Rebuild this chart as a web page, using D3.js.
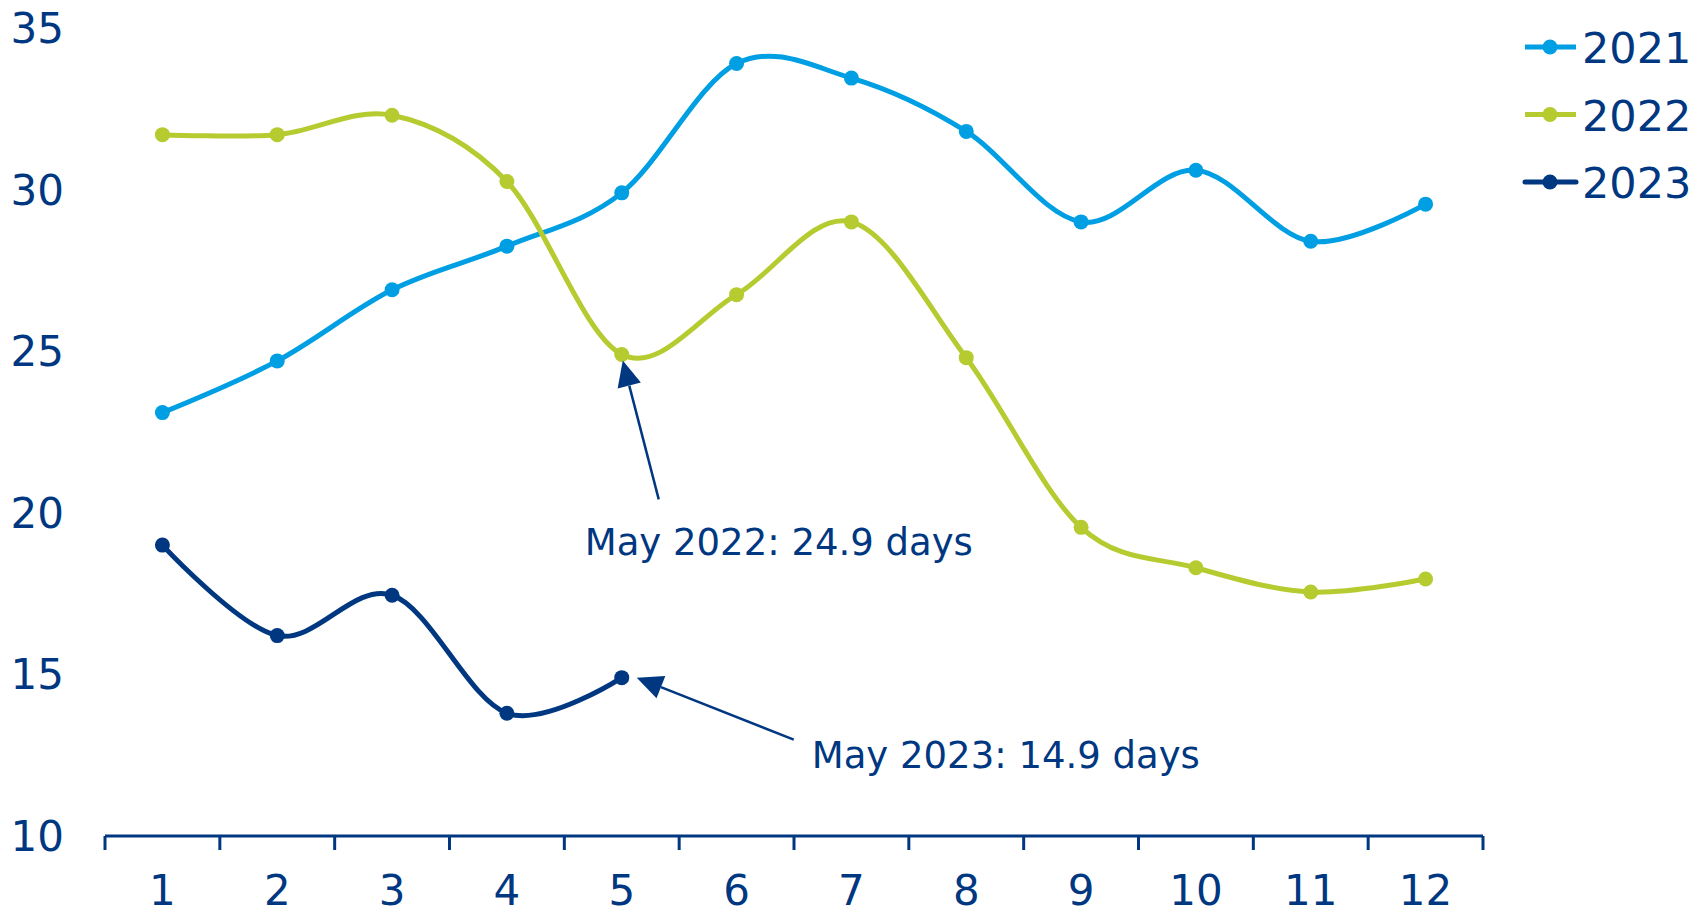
<!DOCTYPE html>
<html>
<head>
<meta charset="utf-8">
<script src="https://cdn.jsdelivr.net/npm/d3@7"></script>
<style>
  html, body { margin: 0; padding: 0; background: #fff; }
  svg text { font-family: "DejaVu Sans", Verdana, sans-serif; fill: #003781; }
</style>
</head>
<body>
<div id="chart"></div>
<script>
// data
const months = [1, 2, 3, 4, 5, 6, 7, 8, 9, 10, 11, 12];
const yTicks = [10, 15, 20, 25, 30, 35];
const values2021 = [23.1, 24.7, 26.9, 28.25, 29.9, 33.9, 33.45, 31.8, 29.0, 30.6, 28.4, 29.55];
const values2022 = [31.7, 31.7, 32.3, 30.25, 24.9, 26.75, 29.0, 24.8, 19.55, 18.3, 17.55, 17.95];
const values2023 = [19.0, 16.2, 17.45, 13.8, 14.9];
const seriesNames = ['2021', '2022', '2023'];
const seriesColors = ['#009fe3', '#b5cb30', '#003781'];
const notes = [
  { label: 'May 2022: 24.9 days', month: 5, value: 24.9 },
  { label: 'May 2023: 14.9 days', month: 5, value: 14.9 }
];

const width = 1707, height = 915;
const margin = [28, 79, 105, 224]; // top, bottom, left, right
const navy = '#003781';

const svg = d3.select('#chart')
    .append('svg')
    .attr('width', width)
    .attr('height', height);

// scales
const scaleX = d3.scaleBand()
    .domain(months)
    .range([margin[2], width - margin[3]])
    .padding(0);
const scaleY = d3.scaleLinear()
    .domain([10, 35])
    .range([height - margin[1], margin[0]]);
const cx = m => scaleX(m) + scaleX.bandwidth() / 2;

// x axis: line along the bottom, ticks at band edges, labels under the middles
const axisY0 = scaleY(10);
svg.append('line')
    .attr('x1', scaleX.range()[0]).attr('x2', scaleX.range()[1])
    .attr('y1', axisY0).attr('y2', axisY0)
    .attr('stroke', navy).attr('stroke-width', 3);
const edges = months.map(m => scaleX(m)).concat([scaleX.range()[1]]);
svg.selectAll('line.xtick')
    .data(edges)
    .join('line')
    .classed('xtick', true)
    .attr('x1', d => d).attr('x2', d => d)
    .attr('y1', axisY0).attr('y2', axisY0 + 14)
    .attr('stroke', navy).attr('stroke-width', 3);
svg.selectAll('text.xlabel')
    .data(months)
    .join('text')
    .classed('xlabel', true)
    .attr('x', d => cx(d))
    .attr('y', 905)
    .attr('text-anchor', 'middle')
    .style('font-size', '42px')
    .text(d => d);

// y labels (no axis line)
svg.selectAll('text.ylabel')
    .data(yTicks)
    .join('text')
    .classed('ylabel', true)
    .attr('x', 64)
    .attr('y', d => scaleY(d) + 15)
    .attr('text-anchor', 'end')
    .style('font-size', '42px')
    .text(d => d);

// lines
const line = d3.line()
    .x((d, i) => cx(months[i]))
    .y(d => scaleY(d))
    .curve(d3.curveCatmullRom.alpha(0));

const allSeries = [values2021, values2022, values2023];
allSeries.forEach((vals, k) => {
    const g = svg.append('g');
    g.append('path')
        .datum(vals)
        .attr('d', line)
        .attr('fill', 'none')
        .attr('stroke', seriesColors[k])
        .attr('stroke-width', 5);
    g.selectAll('circle')
        .data(vals)
        .join('circle')
        .attr('cx', (d, i) => cx(months[i]))
        .attr('cy', d => scaleY(d))
        .attr('r', 7.5)
        .attr('fill', seriesColors[k]);
});

// legend
const legend = svg.append('g');
seriesNames.forEach((name, k) => {
    const y = 47 + k * 67.5;
    legend.append('line')
        .attr('x1', 1525).attr('x2', 1576)
        .attr('y1', y).attr('y2', y)
        .attr('stroke', seriesColors[k]).attr('stroke-width', 5)
        .attr('stroke-linecap', k === 2 ? 'round' : 'butt');
    legend.append('circle')
        .attr('cx', 1550).attr('cy', y).attr('r', 7.5)
        .attr('fill', seriesColors[k]);
    legend.append('text')
        .attr('x', 1582).attr('y', y + 16)
        .style('font-size', '43px')
        .text(name);
});

// annotation arrow: line stops at the head base, head drawn as a triangle
function arrow(x1, y1, x2, y2) {
    const ang = Math.atan2(y2 - y1, x2 - x1);
    const len = 26, half = 12;
    const bx = x2 - len * Math.cos(ang), by = y2 - len * Math.sin(ang);
    svg.append('line')
        .attr('x1', x1).attr('y1', y1).attr('x2', bx).attr('y2', by)
        .attr('stroke', navy).attr('stroke-width', 2.5);
    const px = -Math.sin(ang) * half, py = Math.cos(ang) * half;
    svg.append('path')
        .attr('d', `M${x2},${y2} L${bx + px},${by + py} L${bx - px},${by - py} Z`)
        .attr('fill', navy);
}

// May 2022
const t1x = cx(notes[0].month), t1y = scaleY(notes[0].value);
arrow(t1x + 37, t1y + 145, t1x + 1, t1y + 6);
svg.append('text')
    .attr('x', t1x - 37).attr('y', t1y + 201)
    .style('font-size', '37px')
    .text(notes[0].label);

// May 2023
const t2x = cx(notes[1].month), t2y = scaleY(notes[1].value);
arrow(t2x + 172, t2y + 62, t2x + 15, t2y);
svg.append('text')
    .attr('x', t2x + 190).attr('y', t2y + 90)
    .style('font-size', '37px')
    .text(notes[1].label);
</script>
</body>
</html>
